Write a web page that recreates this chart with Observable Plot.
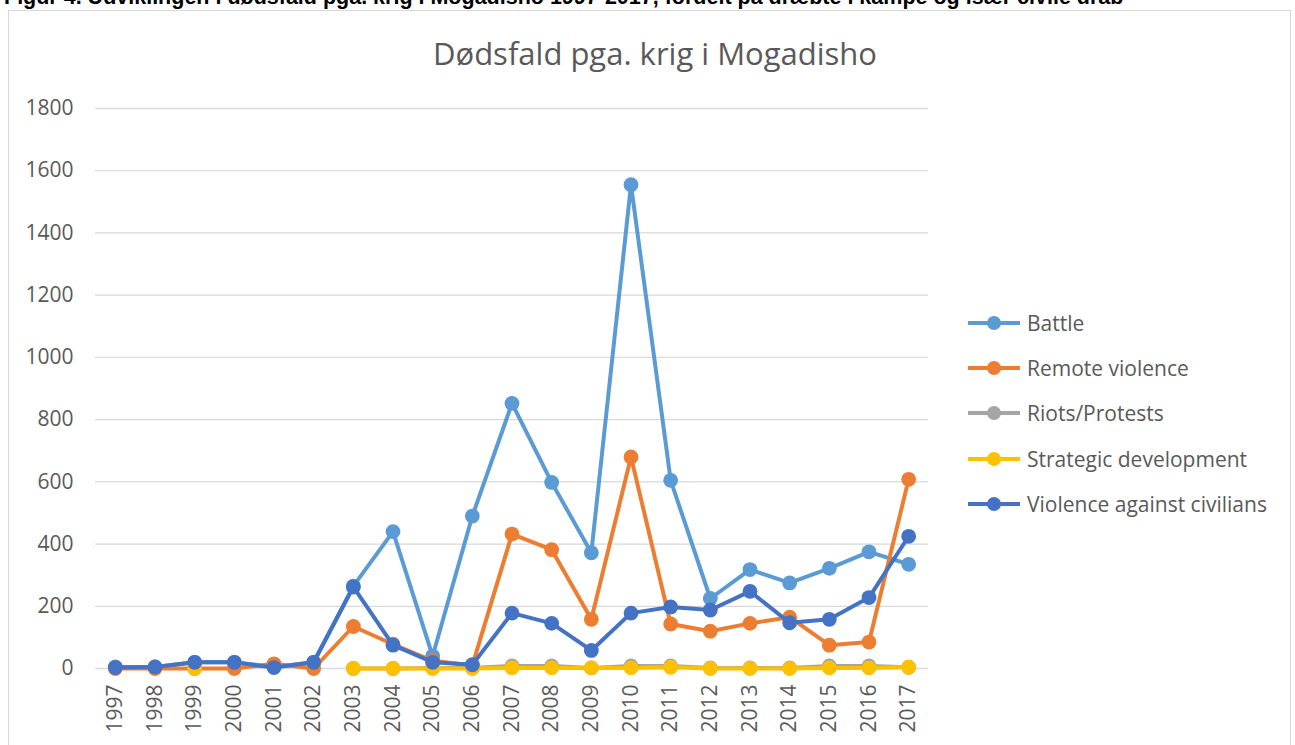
<!DOCTYPE html>
<html>
<head>
<meta charset="utf-8">
<script src="https://cdn.jsdelivr.net/npm/d3@7"></script>
<script src="https://cdn.jsdelivr.net/npm/@observablehq/plot@0.6"></script>
<style>
  html, body { margin: 0; padding: 0; background: #fff; width: 1295px; height: 745px; overflow: hidden; }
  #wrap { position: relative; width: 1295px; height: 745px; font-family: "Open Sans", sans-serif; }
  #caption { position: absolute; left: 4px; top: -15px; font: bold 21.5px/1.15 "Liberation Sans", Arial, sans-serif; color: #000; white-space: nowrap; }
  #frame { position: absolute; left: 8px; top: 10px; width: 1283px; height: 760px; border: 1.5px solid #d9d9d9; box-sizing: border-box; background: #fff; }
  #title { position: absolute; left: 0; width: 1310px; top: 33px; text-align: center; font-size: 31px; line-height: 1.3; color: #595959; }
  #chart { position: absolute; left: 0; top: 0; }
  #legend { position: absolute; left: 968px; top: 300px; }
  .item { display: flex; align-items: center; height: 45.3px; font-size: 21px; color: #595959; }
  .sw { position: relative; width: 52px; height: 14px; margin-right: 7px; }
  .sw .ln { position: absolute; left: 0; right: 0; top: 5px; height: 4px; }
  .sw .dt { position: absolute; left: 19px; top: 0; width: 14px; height: 14px; border-radius: 50%; }
</style>
</head>
<body>
<div id="wrap">
  <div id="caption">Figur 4. Udviklingen i dødsfald pga. krig i Mogadisho 1997-2017, fordelt på dræbte i kampe og især civile drab</div>
  <div id="frame"></div>
  <div id="title">Dødsfald pga. krig i Mogadisho</div>
  <div id="chart"></div>
  <div id="legend"></div>
</div>
<script>
const years = [1997,1998,1999,2000,2001,2002,2003,2004,2005,2006,2007,2008,2009,2010,2011,2012,2013,2014,2015,2016,2017];
const battle    = [5,5,20,20,5,20,265,440,40,490,852,598,372,1555,605,225,318,275,322,375,335];
const remote    = [0,0,0,0,15,0,135,78,25,10,432,382,158,680,143,120,145,165,75,85,608];
const riots     = [null,null,null,null,null,null,0,0,2,2,8,8,2,8,8,2,2,2,8,8,4];
const strategic = [null,null,0,null,null,null,0,0,0,0,2,2,2,2,4,0,0,0,2,2,4];
const civilians = [3,5,20,20,3,20,262,75,20,12,178,145,58,178,198,188,248,147,158,228,425];
const seriesNames = ["Battle","Remote violence","Riots/Protests","Strategic development","Violence against civilians"];
const seriesValues = [battle, remote, riots, strategic, civilians];
const colors = ["#5B9BD5","#ED7D31","#A5A5A5","#FFC000","#4472C4"];
const yTicks = [0,200,400,600,800,1000,1200,1400,1600,1800];

const marks = [Plot.ruleY(yTicks, {stroke: "#d9d9d9", strokeWidth: 1.3})];
seriesNames.forEach((name, i) => {
  const data = years.map((y, j) => ({year: y, value: seriesValues[i][j]}));
  marks.push(Plot.line(data, {x: "year", y: "value", stroke: colors[i], strokeWidth: 4, defined: d => d.value != null}));
  marks.push(Plot.dot(data.filter(d => d.value != null), {x: "year", y: "value", fill: colors[i], r: 7.4}));
});

const chart = Plot.plot({
  width: 1295,
  height: 745,
  marginLeft: 95,
  marginRight: 367,
  marginTop: 108,
  marginBottom: 77,
  style: {fontFamily: "Open Sans, sans-serif", fontSize: "21px", color: "#595959", background: "transparent", overflow: "visible"},
  x: {type: "point", domain: years, padding: 0.5, round: false, label: null, tickSize: 0, tickPadding: 16, tickRotate: -90, tickFormat: d => String(d)},
  y: {domain: [0, 1800], ticks: yTicks, label: null, tickSize: 0, tickPadding: 22, tickFormat: d => String(d)},
  marks
});
document.getElementById("chart").appendChild(chart);

const legend = document.getElementById("legend");
seriesNames.forEach((name, i) => {
  const item = document.createElement("div");
  item.className = "item";
  item.innerHTML = `<div class="sw"><div class="ln" style="background:${colors[i]}"></div><div class="dt" style="background:${colors[i]}"></div></div><span>${name}</span>`;
  legend.appendChild(item);
});
</script>
</body>
</html>
